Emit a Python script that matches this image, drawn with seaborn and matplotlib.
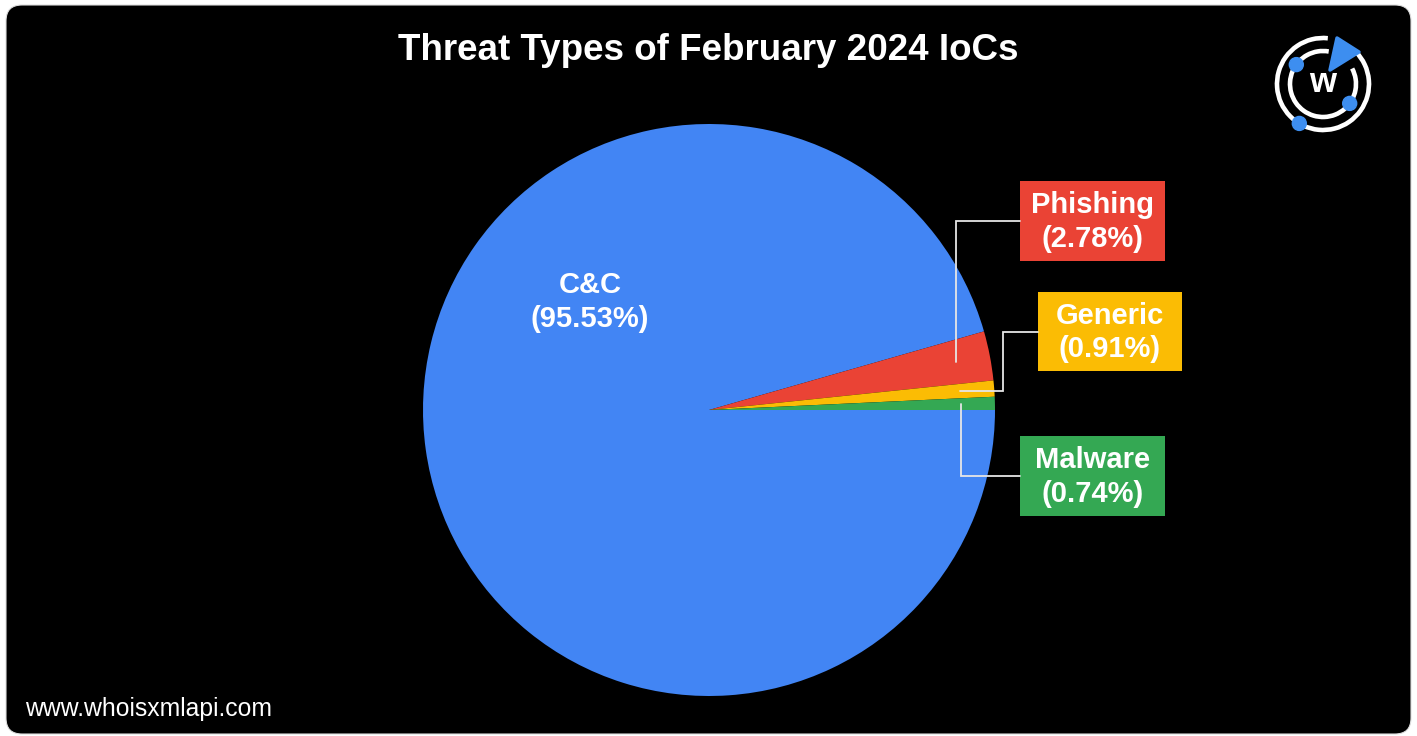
import numpy as np
import seaborn as sns
import matplotlib.pyplot as plt
from matplotlib.patches import FancyBboxPatch, Rectangle, Arc, Circle, Polygon

# data
labels = ["C&C", "Phishing", "Generic", "Malware"]
shares = [95.53, 2.78, 0.91, 0.74]
slice_colors = ["#4285F4", "#EA4335", "#FBBC04", "#34A853"]
title = "Threat Types of February 2024 IoCs"
footer = "www.whoisxmlapi.com"

sns.set_theme(style="white")
plt.rcParams['font.family'] = ['Liberation Sans', 'DejaVu Sans']
palette = sns.color_palette(slice_colors)

W, H = 1417, 736
fig = plt.figure(figsize=(W / 100, H / 100), dpi=100)
fig.patch.set_facecolor('white')

# background panel (pixel units, y downwards)
bg = fig.add_axes([0, 0, 1, 1])
bg.set_xlim(0, W)
bg.set_ylim(H, 0)
bg.axis('off')
bg.add_patch(FancyBboxPatch((6, 5), 1405, 729, boxstyle="round,pad=0,rounding_size=16",
                            facecolor='black', edgecolor='#dddddd', lw=0.8))

# pie
cx, cy, R = 709, 410, 286
ax = fig.add_axes([(cx - R) / W, (H - cy - R) / H, 2 * R / W, 2 * R / H])
wedges, _ = ax.pie(shares, colors=palette, startangle=0, counterclock=False,
                   wedgeprops=dict(linewidth=0))
ax.set_xlim(-1, 1)
ax.set_ylim(-1, 1)
ax.axis('off')

# foreground layer for texts and callouts
fg = fig.add_axes([0, 0, 1, 1])
fg.set_xlim(0, W)
fg.set_ylim(H, 0)
fg.axis('off')
fg.patch.set_alpha(0)

fg.text(W / 2, 50, title, color='white', fontsize=26.5, fontweight='bold',
        ha='center', va='center')
fg.text(25, 709, footer, color='white', fontsize=17.8, ha='left', va='center')

# C&C label inside the pie
fg.text(590, 302, f"{labels[0]}\n({shares[0]:.2f}%)", color='white', fontsize=21,
        fontweight='bold', ha='center', va='center', linespacing=1.25)

# callout boxes: (left, top, width, height)
boxes = {
    "Phishing": (1020, 181, 145, 80),
    "Generic": (1038, 292, 144, 79),
    "Malware": (1020, 436, 145, 80),
}
for i in range(1, 4):
    name = labels[i]
    w = wedges[i]
    mid = np.deg2rad((w.theta1 + w.theta2) / 2)
    sx = cx + R * 0.88 * np.cos(mid)
    sy = cy - R * 0.88 * np.sin(mid)
    bx, by, bw, bh = boxes[name]
    ymid = by + bh / 2
    if name == "Generic":
        xs = [sx, 1003, 1003, bx]
        ys = [sy, sy, ymid, ymid]
    else:
        xs = [sx, sx, bx]
        ys = [sy, ymid, ymid]
    fg.plot(xs, ys, color='#e6e6e6', lw=1.3, solid_joinstyle='miter')
    fg.add_patch(Rectangle((bx, by), bw, bh, facecolor=palette[i], edgecolor='none'))
    fg.text(bx + bw / 2, ymid + 1, f"{name}\n({shares[i]:.2f}%)", color='white',
            fontsize=21, fontweight='bold', ha='center', va='center', linespacing=1.25)

# logo
lx, ly = 1323, 84
lg = fig.add_axes([(lx - 55) / W, (H - ly - 55) / H, 110 / W, 110 / H])
lg.set_xlim(-55, 55)
lg.set_ylim(-55, 55)
lg.axis('off')
lg.patch.set_alpha(0)
blue = "#3d8ef0"
lg.add_patch(Arc((0, 0), 92, 92, theta1=84, theta2=405, color='white', lw=3.3))
lg.add_patch(Arc((0, 0), 66, 66, theta1=80, theta2=388, color='white', lw=3.3))
lg.add_patch(Polygon([(14, 46), (36, 32), (7, 14)], closed=True, facecolor=blue,
                     edgecolor=blue, lw=2.5, joinstyle='round'))
for ang, r in [(144, 33), (-36, 33), (239, 46)]:
    a = np.deg2rad(ang)
    lg.add_patch(Circle((r * np.cos(a), r * np.sin(a)), 7, color=blue))
lg.text(0, 1, "w", color='white', fontsize=25, fontweight='bold', ha='center', va='center')

fig.savefig("out.png", dpi=100, facecolor='white')
